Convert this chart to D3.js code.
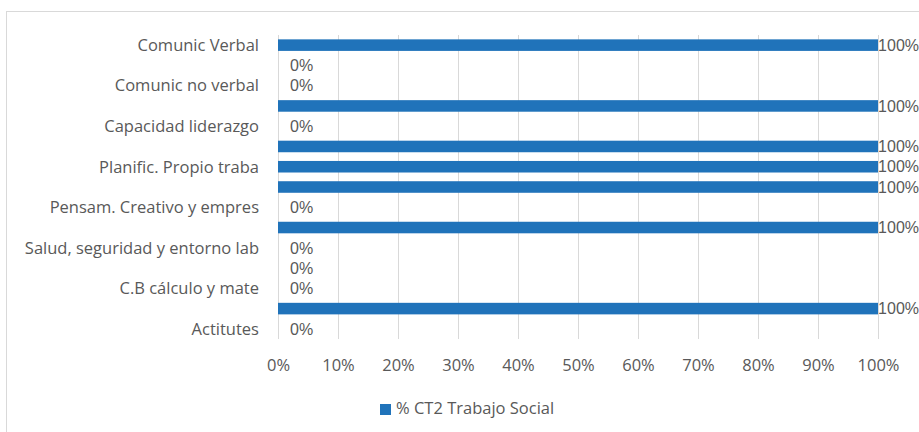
<!DOCTYPE html>
<html><head><meta charset="utf-8">
<script src="https://cdn.jsdelivr.net/npm/d3@7"></script>
<style>
body{margin:0;background:#fff;}
text{font-family:"Open Sans",sans-serif;fill:#595959;}
</style></head>
<body><svg id="chart" width="919" height="432"></svg>
<script>
// Categories from top to bottom (hidden labels are blank in the original)
const categories = ["Comunic Verbal","","Comunic no verbal","","Capacidad liderazgo","","Planific. Propio traba","","Pensam. Creativo y empres","","Salud, seguridad y entorno lab","","C.B cálculo y mate","","Actitutes"];
const values = [100,0,0,100,0,100,100,100,0,100,0,0,0,100,0];
const xTicks = [0,10,20,30,40,50,60,70,80,90,100];
const seriesName = "% CT2 Trabajo Social";

const W = 919, H = 432;
const FS = "16.5px";
const svg = d3.select("#chart");
const m = {left:278, right:41, top:35, bottom:93};

svg.append("rect").attr("x",6.5).attr("y",11.5).attr("width",W+10).attr("height",H+10)
  .attr("fill","#fff").attr("stroke","#d9d9d9");

const x = d3.scaleLinear().domain([0,100]).range([m.left, W-m.right]);
const y = d3.scaleBand().domain(d3.range(categories.length)).range([m.top, H-m.bottom]).paddingInner(0.43).paddingOuter(0.215);

// gridlines
svg.append("g").selectAll("line").data(xTicks).join("line")
  .attr("x1",d=>Math.round(x(d))+0.5).attr("x2",d=>Math.round(x(d))+0.5)
  .attr("y1",m.top).attr("y2",H-m.bottom)
  .attr("stroke","#d9d9d9").attr("stroke-width",1);

// x axis labels
const xAxis = d3.axisBottom(x).tickValues(xTicks).tickFormat(d=>d+"%").tickSize(0).tickPadding(0);
const gx = svg.append("g").attr("transform",`translate(0,${H-m.bottom})`).call(xAxis);
gx.select(".domain").remove();
gx.selectAll("text").attr("y",31.5).attr("dy",0).style("font-size",FS).style("font-family",'"Open Sans",sans-serif').attr("fill","#595959");

// y axis labels
const yAxis = d3.axisLeft(y).tickFormat(i=>categories[i]).tickSize(0).tickPadding(19);
const gy = svg.append("g").attr("transform",`translate(${m.left},0)`).call(yAxis);
gy.select(".domain").remove();
gy.selectAll("text").style("font-size",FS).style("font-family",'"Open Sans",sans-serif').attr("fill","#595959").attr("dy","0.35em");

// bars
svg.append("g").selectAll("rect").data(values).join("rect")
  .attr("x",x(0)).attr("y",(d,i)=>y(i))
  .attr("width",d=>x(d)-x(0)).attr("height",y.bandwidth())
  .attr("fill","#2073ba");

// data labels
const lbl = svg.append("g").selectAll("text").data(values).join("text")
  .attr("y",(d,i)=>y(i)+y.bandwidth()/2).attr("dy","0.36em")
  .style("font-size","16px").style("font-family",'"Liberation Sans",Arial,sans-serif').attr("fill","#595959")
  .text(d=>d+"%");
lbl.attr("x",function(d){
  const w = this.getComputedTextLength();
  return Math.min(x(d)+12, W - w);
});

// legend
const lx = 380, ly = 404;
svg.append("rect").attr("x",lx).attr("y",ly).attr("width",11).attr("height",11).attr("fill","#2073ba");
svg.append("text").attr("x",lx+16).attr("y",ly+9.5).style("font-size",FS).text(seriesName);
</script></body></html>
